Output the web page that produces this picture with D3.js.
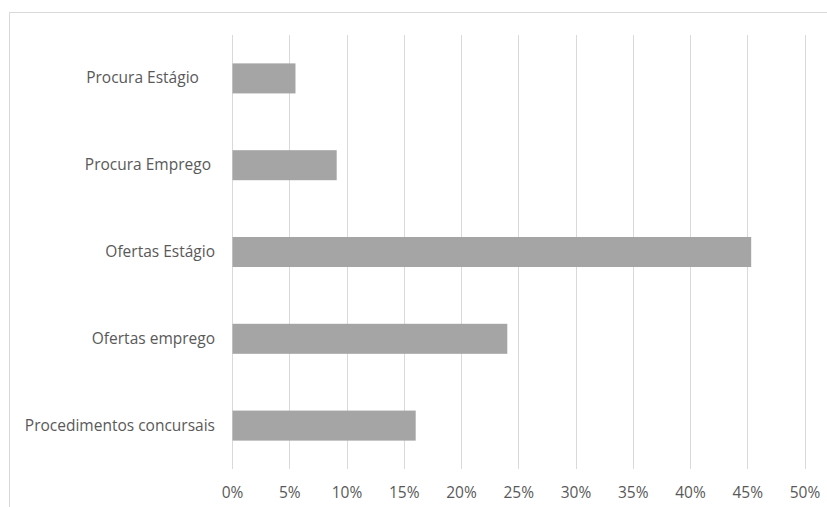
<!DOCTYPE html>
<html><head><meta charset="utf-8">
<script src="https://cdn.jsdelivr.net/npm/d3@7"></script>
<style>body{margin:0;background:#fff}svg{display:block}</style>
</head><body>
<script>
const categories = ["Procura Estágio    ", "Procura Emprego ", "Ofertas Estágio", "Ofertas emprego", "Procedimentos concursais"];
const values = [0.055, 0.091, 0.453, 0.240, 0.160];
const tickValues = [0, 0.05, 0.10, 0.15, 0.20, 0.25, 0.30, 0.35, 0.40, 0.45, 0.50];

const W = 827, H = 507;
const svg = d3.select("body").append("svg").attr("width", W).attr("height", H);

// chart border
svg.append("rect").attr("x", 9.5).attr("y", 12.5).attr("width", 840).attr("height", 520)
  .attr("fill", "none").attr("stroke", "#d9d9d9").attr("stroke-width", 1);

const x = d3.scaleLinear().domain([0, 0.5]).range([232, 804.5]);
const y = d3.scaleBand().domain(categories).range([35, 469]).paddingInner(0.654).paddingOuter(0.327);

// gridlines
svg.append("g").selectAll("line").data(tickValues).join("line")
  .attr("x1", d => Math.round(x(d)) + 0.5).attr("x2", d => Math.round(x(d)) + 0.5)
  .attr("y1", 35).attr("y2", 469)
  .attr("stroke", "#d9d9d9").attr("stroke-width", 1);

// bars
svg.append("g").selectAll("rect").data(values).join("rect")
  .attr("x", x(0) + 0.5)
  .attr("y", (d, i) => y(categories[i]))
  .attr("width", d => x(d) - x(0))
  .attr("height", y.bandwidth())
  .attr("fill", "#a5a5a5");

const font = "'Open Sans', sans-serif", fs = "15.5px";

// x axis
const xAxis = d3.axisBottom(x).tickValues(tickValues).tickFormat(d3.format(".0%")).tickSize(0).tickPadding(0);
const gx = svg.append("g").attr("transform", "translate(0,487)").call(xAxis);
gx.select(".domain").remove();
gx.selectAll("text").attr("fill", "#595959").style("font-family", font).style("font-size", fs);

// y axis labels
const yAxis = d3.axisLeft(y).tickSize(0).tickPadding(17);
const gy = svg.append("g").attr("transform", "translate(232,0)").call(yAxis);
gy.select(".domain").remove();
gy.selectAll("text").attr("fill", "#595959").attr("xml:space", "preserve").style("white-space", "pre")
  .style("font-family", font).style("font-size", fs);
</script>
</body></html>
